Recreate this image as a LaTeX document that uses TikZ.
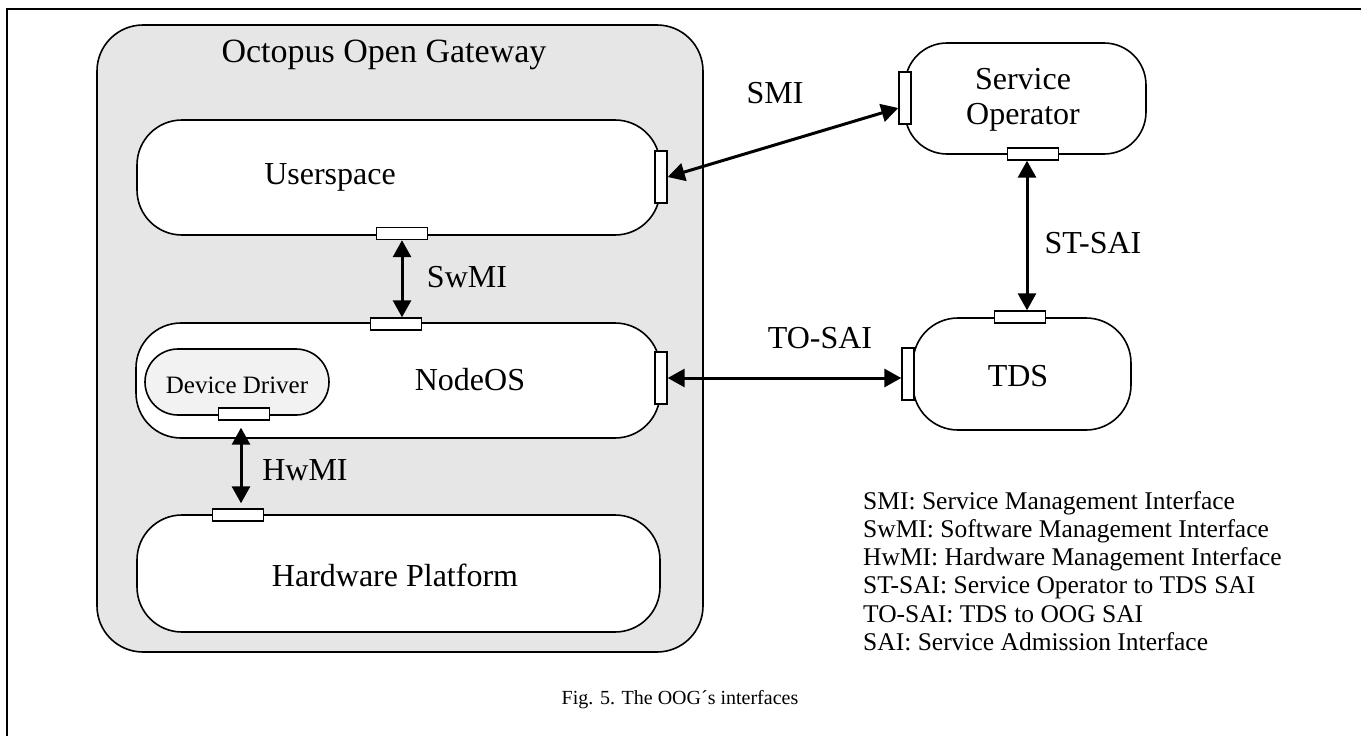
\documentclass[tikz,border=0pt]{standalone}
\usepackage{fontspec}
\setmainfont{Liberation Serif}
\usetikzlibrary{arrows.meta}
\definecolor{gwgray}{HTML}{E6E6E6}
\definecolor{ddgray}{HTML}{F2F2F2}
\begin{document}
\begin{tikzpicture}[x=1pt,y=-1pt,
  box/.style={draw, line width=1.6pt, fill=white, rounded corners=45pt, inner sep=0pt},
  port/.style={draw, line width=1.4pt, fill=white, inner sep=0pt},
  hport/.style={port, minimum width=51pt, minimum height=12pt},
  vport/.style={port, minimum width=12pt, minimum height=52pt},
  lbl/.style={font=\fontsize{32}{35}\selectfont, inner sep=0pt},
  small/.style={font=\fontsize{25.5}{28.3}\selectfont, inner sep=0pt},
  biarrow/.style={line width=3pt, {Triangle[length=17pt,width=18pt]}-{Triangle[length=17pt,width=18pt]}},
]
\useasboundingbox (0,0) rectangle (1361,736);

% page frame
\draw[line width=1.6pt] (7,736) -- (7,9) -- (1361,9);

% gateway and its layers
\node[box, fill=gwgray, rounded corners=46pt, minimum width=606pt, minimum height=627pt] (oog) at (400,338.5) {};
\node[lbl, font=\fontsize{34}{38}\selectfont] (oogt) at (384,55) {Octopus Open Gateway};

\node[box, minimum width=523pt, minimum height=115pt] (us) at (398.5,177.5) {};
\node[lbl] (ust) at (330,177) {Userspace};

\node[box, minimum width=524pt, minimum height=115pt] (no) at (398,380.5) {};
\node[lbl] (not) at (470,380) {NodeOS};

\node[box, fill=ddgray, rounded corners=33pt, minimum width=184pt, minimum height=66pt] (dd) at (237,382) {};
\node[small, font=\fontsize{25}{28}\selectfont] (ddt) at (237,385) {Device Driver};

\node[box, minimum width=523pt, minimum height=117pt] (hw) at (398.5,573.5) {};
\node[lbl] (hwt) at (395,575) {Hardware Platform};

% external entities
\node[box, rounded corners=42pt, minimum width=241pt, minimum height=111pt] (so) at (1025.5,98.5) {};
\node[lbl, align=center] (sot) at (1023,100) {Service\\Operator};

\node[box, minimum width=218pt, minimum height=112pt] (td) at (1022,374) {};
\node[lbl] (tdt) at (1018,376) {TDS};

% interface ports
\node[vport] (usR) at (661,177) {};
\node[hport] (usB) at (402,233.5) {};
\node[hport] (noT) at (396,324) {};
\node[vport] (noR) at (661,378) {};
\node[hport] (ddB) at (244,414) {};
\node[hport] (hwT) at (238,515) {};
\node[vport] (soL) at (905,98) {};
\node[hport] (soB) at (1033,154) {};
\node[hport] (tdT) at (1020,317) {};
\node[vport] (tdL) at (908,374) {};

% interfaces
\coordinate (stx) at (1027,0);
\draw[biarrow] (usR.east) -- ([yshift=-10pt]soL.west);
\draw[biarrow] (usB.south) -- (noT.north -| usB.south);
\draw[biarrow] ([xshift=-3pt,yshift=-7pt]ddB.south) -- ([xshift=3pt,yshift=5pt]hwT.north);
\draw[biarrow] (soB.south -| stx) -- (tdT.north -| stx);
\draw[biarrow] (noR.east) -- (noR.east -| tdL.west);

\node[lbl] (smi) at (775,93) {SMI};
\node[lbl] (swmi) at (467,277) {SwMI};
\node[lbl] (hwmi) at (305,470) {HwMI};
\node[lbl] (stsai) at (1093,243) {ST-SAI};
\node[lbl] (tosai) at (820,338) {TO-SAI};

% legend
\node[small, anchor=base west] (lg1) at (863,509) {SMI: Service Management Interface};
\node[small, anchor=base west] (lg2) at (863,537.3) {SwMI: Software Management Interface};
\node[small, anchor=base west] (lg3) at (863,565.6) {HwMI: Hardware Management Interface};
\node[small, anchor=base west] (lg4) at (863,593.9) {ST-SAI: Service Operator to TDS SAI};
\node[small, anchor=base west] (lg5) at (863,622.2) {TO-SAI: TDS to OOG SAI};
\node[small, anchor=base west] (lg6) at (863,650.5) {SAI: Service Admission Interface};

% caption
\node[font=\fontsize{20}{24}\selectfont, inner sep=0pt] (cap) at (680,700) {Fig. 5. The OOG´s interfaces};
\end{tikzpicture}
\end{document}
